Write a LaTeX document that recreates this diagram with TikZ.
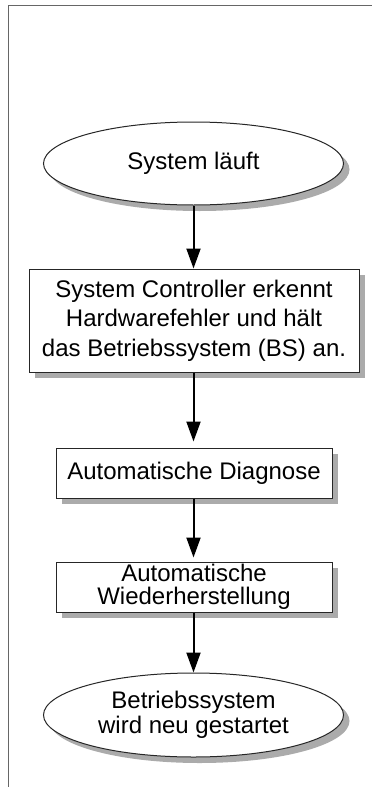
\documentclass[tikz,border=0pt]{standalone}
\usepackage{fontspec}
\setmainfont{Liberation Sans}
\usetikzlibrary{shapes.geometric,shadows,arrows.meta}
\tikzset{
  shad/.style={drop shadow={shadow xshift=6pt,shadow yshift=-6pt,fill=black!33,opacity=1}},
  boxnode/.style={draw=black!85,line width=1pt,fill=white,rectangle,inner sep=0pt,align=center,shad},
  ovalnode/.style={draw=black!85,line width=1pt,fill=white,ellipse,inner sep=0pt,align=center,shad},
  flow/.style={line width=2pt,-{Triangle[width=14pt,length=20pt]}},
  framel/.style={draw=black!60,line width=1.5pt}
}
\begin{document}
\begin{tikzpicture}[x=1pt,y=-1pt]
\useasboundingbox (0,0) rectangle (372,787);
\draw[framel] (372,5.5) -- (8.5,5.5) -- (8.5,787);
\node[ovalnode,minimum width=300pt,minimum height=83pt,font=\fontsize{24}{24}\selectfont] (s) at (193.5,163.5) {System läuft};
\node[boxnode,minimum width=330pt,minimum height=103pt,font=\fontsize{24}{29.5}\selectfont] (c) at (194,320.5) {System Controller erkennt\\Hardwarefehler und hält\\das Betriebssystem (BS) an.};
\node[boxnode,minimum width=276pt,minimum height=50pt,font=\fontsize{24}{24}\selectfont] (d) at (194,473) {Automatische Diagnose};
\node[boxnode,minimum width=276pt,minimum height=50pt,font=\fontsize{24}{23.5}\selectfont] (w) at (194,587) {Automatische\\Wiederherstellung};
\node[ovalnode,minimum width=300pt,minimum height=84pt,font=\fontsize{24}{24.5}\selectfont] (b) at (193.5,715) {Betriebssystem\\wird neu gestartet};
\draw[flow] (s.south) -- (s.south |- c.north);
\draw[flow] (s.south |- c.south) -- ([yshift=6pt]s.south |- d.north);
\draw[flow] (s.south |- d.south) -- ([yshift=4pt]s.south |- w.north);
\draw[flow] (s.south |- w.south) -- (b.north);
\end{tikzpicture}
\end{document}
